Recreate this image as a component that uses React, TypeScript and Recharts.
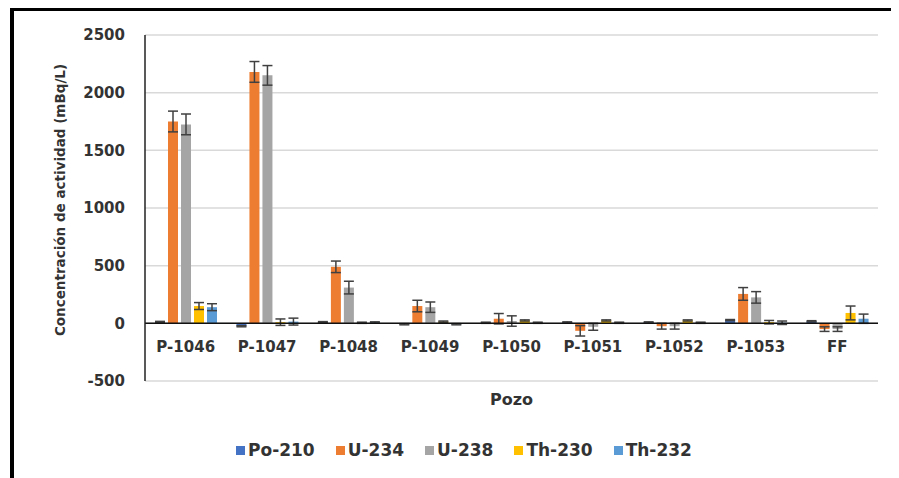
import React from 'react';
import { BarChart, Bar, XAxis, YAxis, CartesianGrid, ErrorBar, Legend, ReferenceLine } from 'recharts';

const categories = ['P-1046', 'P-1047', 'P-1048', 'P-1049', 'P-1050', 'P-1051', 'P-1052', 'P-1053', 'FF'];
const po210 = [12, -25, 10, -8, 5, 8, 8, 28, 18];
const po210Err = [5, 5, 5, 5, 5, 5, 5, 5, 5];
const u234 = [1750, 2180, 490, 150, 40, -65, -25, 255, -50];
const u234Err = [90, 90, 50, 50, 45, 45, 25, 55, 20];
const u238 = [1725, 2150, 310, 140, 20, -30, -25, 225, -50];
const u238Err = [90, 85, 55, 45, 45, 30, 25, 50, 20];
const th230 = [150, 10, 5, 15, 25, 25, 25, 10, 90];
const th230Err = [30, 28, 5, 5, 5, 5, 5, 15, 60];
const th232 = [140, 15, 8, -8, 5, 5, 5, 5, 40];
const th232Err = [30, 30, 5, 5, 5, 5, 5, 15, 40];
const yTicks = [-500, 0, 500, 1000, 1500, 2000, 2500];

const data = categories.map((name, i) => ({
  name,
  po210: po210[i], po210Err: po210Err[i],
  u234: u234[i], u234Err: u234Err[i],
  u238: u238[i], u238Err: u238Err[i],
  th230: th230[i], th230Err: th230Err[i],
  th232: th232[i], th232Err: th232Err[i],
}));

const series = [
  { key: 'po210', err: 'po210Err', name: 'Po-210', color: '#4472C4' },
  { key: 'u234', err: 'u234Err', name: 'U-234', color: '#ED7D31' },
  { key: 'u238', err: 'u238Err', name: 'U-238', color: '#A5A5A5' },
  { key: 'th230', err: 'th230Err', name: 'Th-230', color: '#FFC000' },
  { key: 'th232', err: 'th232Err', name: 'Th-232', color: '#5B9BD5' },
];
const seriesOrder = series.map((s) => s.name);

const FONT = '"DejaVu Sans", sans-serif';
const TEXT = '#333333';

function XTick(props: any) {
  const { x, y, payload } = props;
  return (
    <text x={x} y={y - 29} textAnchor="middle" fontFamily={FONT} fontWeight="bold" fontSize={15} fill={TEXT}>
      {payload.value}
    </text>
  );
}

function XLabel(props: any) {
  const vb = props.viewBox || {};
  return (
    <text x={vb.x + vb.width / 2} y={vb.y + 24} textAnchor="middle" fontFamily={FONT} fontWeight="bold" fontSize={16} fill={TEXT}>
      Pozo
    </text>
  );
}

function YLabel(props: any) {
  const vb = props.viewBox || {};
  const cx = vb.x - 5;
  const cy = vb.y + vb.height / 2 - 8;
  return (
    <text x={cx} y={cy} transform={`rotate(-90 ${cx} ${cy})`} textAnchor="middle" dominantBaseline="central" fontFamily={FONT} fontWeight="bold" fontSize={13.5} fill={TEXT}>
      Concentración de actividad (mBq/L)
    </text>
  );
}

function LegendContent(props: any) {
  const payload = [...(props.payload || [])].sort(
    (a: any, b: any) => seriesOrder.indexOf(a.value) - seriesOrder.indexOf(b.value)
  );
  return (
    <div style={{ display: 'flex', gap: 21, fontFamily: FONT, fontWeight: 'bold', fontSize: 17, color: TEXT, lineHeight: '24px', whiteSpace: 'nowrap' }}>
      {payload.map((p: any) => (
        <div key={p.value} style={{ display: 'flex', alignItems: 'center' }}>
          <span style={{ width: 9, height: 9, background: p.color, marginRight: 3, display: 'inline-block' }} />
          {p.value}
        </div>
      ))}
    </div>
  );
}

export default function App() {
  return (
    <div style={{ position: 'relative', width: 891, height: 470, background: '#fff' }}>
      <div style={{ position: 'absolute', left: 2, top: 0, width: 889, height: 3, background: '#000' }} />
      <div style={{ position: 'absolute', left: 2, top: 0, width: 4, height: 470, background: '#000' }} />
      <BarChart
        width={891}
        height={470}
        data={data}
        margin={{ top: 27, right: 21, left: 57, bottom: 16 }}
        barSize={10}
        barGap={3}
      >
        <CartesianGrid vertical={false} stroke="#d9d9d9" strokeWidth={1.5} />
        <XAxis
          dataKey="name"
          height={57}
          axisLine={false}
          tickLine={false}
          tickSize={0}
          tickMargin={0}
          interval={0}
          tick={<XTick />}
          label={<XLabel />}
        />
        <YAxis
          width={80}
          domain={[-500, 2500]}
          ticks={yTicks}
          interval={0}
          axisLine={{ stroke: '#222', strokeWidth: 1.5 }}
          tickLine={false}
          tickSize={0}
          tickMargin={20}
          tick={{ fontFamily: FONT, fontWeight: 'bold', fontSize: 15, fill: TEXT }}
          label={<YLabel />}
        />
        <Legend
          verticalAlign="bottom"
          content={<LegendContent />}
          wrapperStyle={{ left: 228, width: 480, height: 24 }}
        />
        {series.map((s) => (
          <Bar key={s.key} dataKey={s.key} name={s.name} fill={s.color} isAnimationActive={false}>
            <ErrorBar dataKey={s.err} width={5} stroke="#404040" strokeWidth={1.5} />
          </Bar>
        ))}
        <ReferenceLine y={0} stroke="#111" strokeWidth={1.5} />
      </BarChart>
    </div>
  );
}
